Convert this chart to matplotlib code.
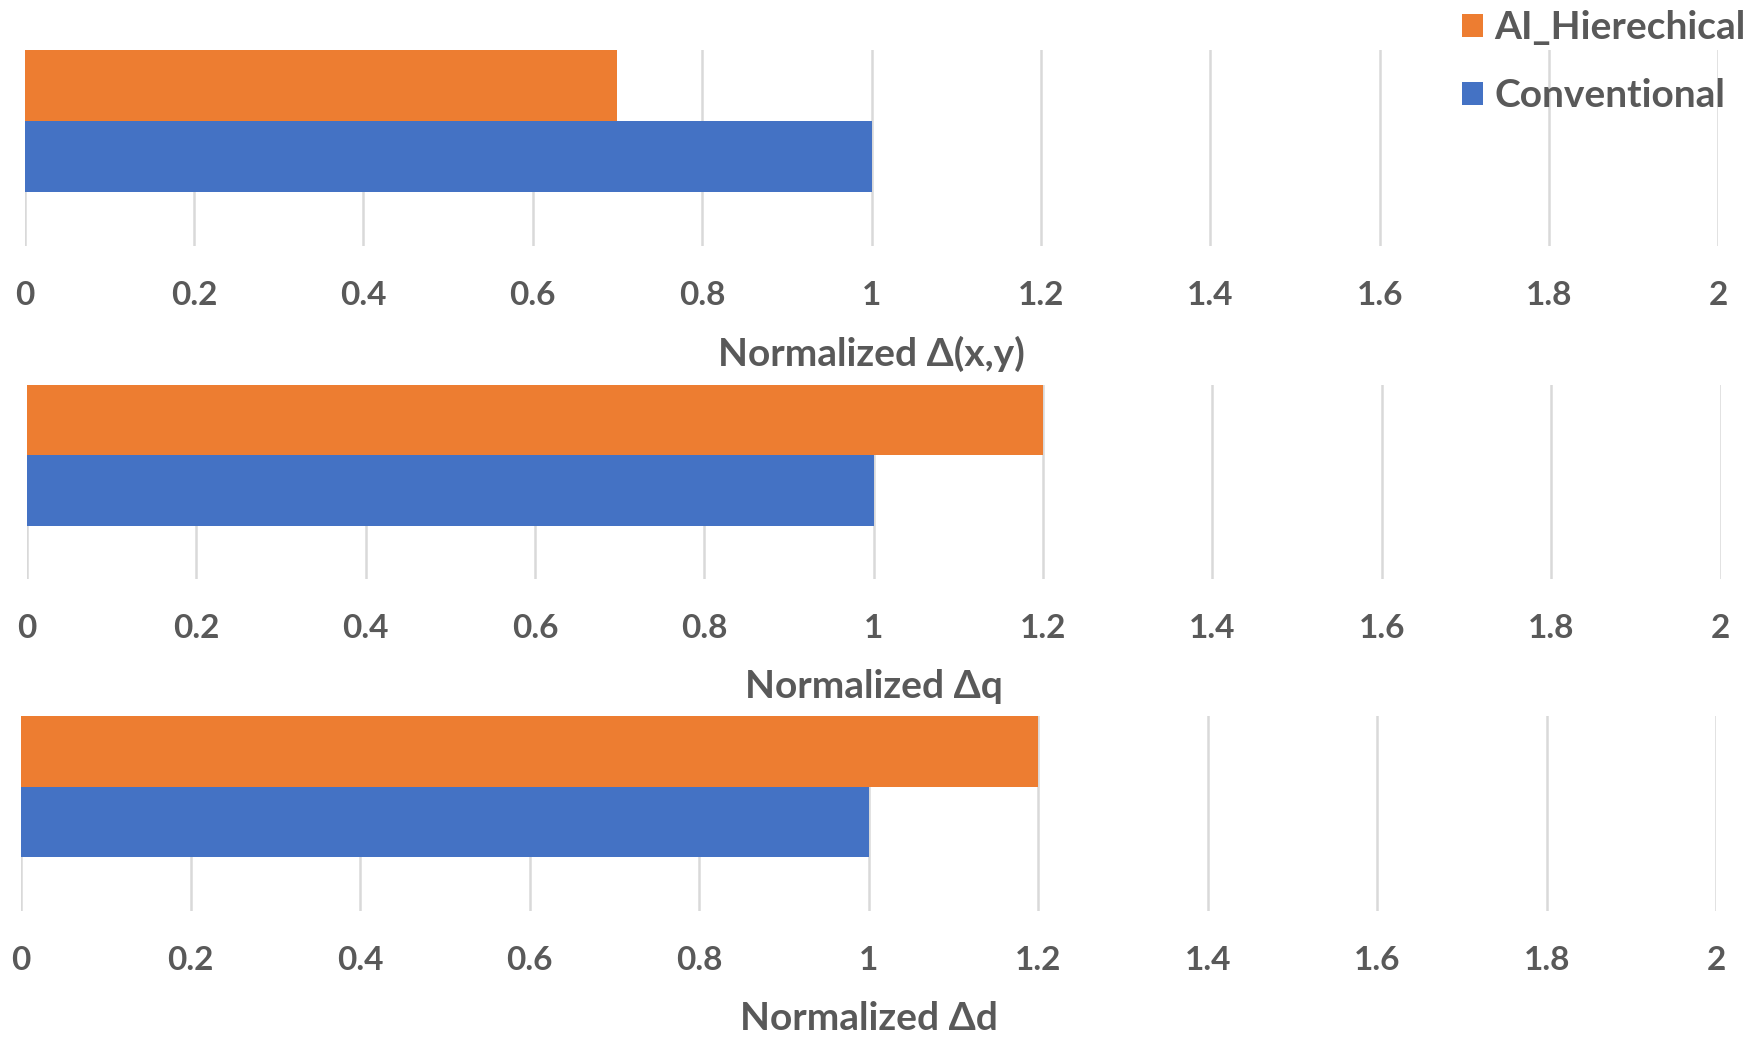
import numpy as np
import matplotlib
matplotlib.use("Agg")
import matplotlib.pyplot as plt

# values
metrics = ["Normalized \u0394(x,y)", "Normalized \u0394q", "Normalized \u0394d"]
conventional = [1.0, 1.0, 1.0]
ai_hierechical = [0.7, 1.2, 1.2]
x_ticks = [0, 0.2, 0.4, 0.6, 0.8, 1, 1.2, 1.4, 1.6, 1.8, 2]
x_tick_labels = ["0", "0.2", "0.4", "0.6", "0.8", "1", "1.2", "1.4", "1.6", "1.8", "2"]

plt.rcParams['font.family'] = ['Lato', 'DejaVu Sans']
plt.rcParams['font.weight'] = 'bold'

W, H = 1752, 1039
fig = plt.figure(figsize=(W / 100, H / 100), dpi=100)

# panel boxes in pixels: left, right (x=0..2), top (bar top), bottom (grid end)
panels = [(24.6, 1718.4, 50, 246),
          (26.8, 1720.6, 385, 579),
          (21.2, 1716.2, 716, 911)]

text_color = "#595959"
orange = "#ED7D31"
blue = "#4472C4"

axes = []
for i, (l, r, t, b) in enumerate(panels):
    ax = fig.add_axes([l / W, 1 - b / H, (r - l) / W, (b - t) / H])
    ob = ax.barh([0.5], [ai_hierechical[i]], height=1.0, color=orange, label="AI_Hierechical", zorder=3)
    bb = ax.barh([-0.5], [conventional[i]], height=1.0, color=blue, label="Conventional", zorder=3)
    ax.set_xlim(0, 2)
    ax.set_ylim(-1.76, 1.0)
    ax.set_yticks([])
    ax.set_xticks(x_ticks, x_tick_labels)
    ax.tick_params(axis='x', length=0, pad=25, labelsize=24, labelcolor=text_color)
    for lab in ax.get_xticklabels():
        lab.set_fontweight('bold')
    ax.grid(axis='x', color="#d9d9d9", linewidth=1.8, zorder=0)
    for s in ax.spines.values():
        s.set_visible(False)
    ax.set_xlabel(metrics[i], fontsize=28, fontweight='bold', color=text_color, labelpad=19)
    axes.append((ax, ob, bb))

ax0, ob, bb = axes[0]
fig.legend([ob, bb], ["AI_Hierechical", "Conventional"], loc='upper right',
           bbox_to_anchor=(1.0165, 1.024), frameon=False,
           prop={'weight': 'bold', 'size': 28}, labelcolor=text_color,
           handlelength=0.55, handleheight=0.55, handletextpad=0.3, labelspacing=0.85)

fig.savefig("out.png", dpi=100)
